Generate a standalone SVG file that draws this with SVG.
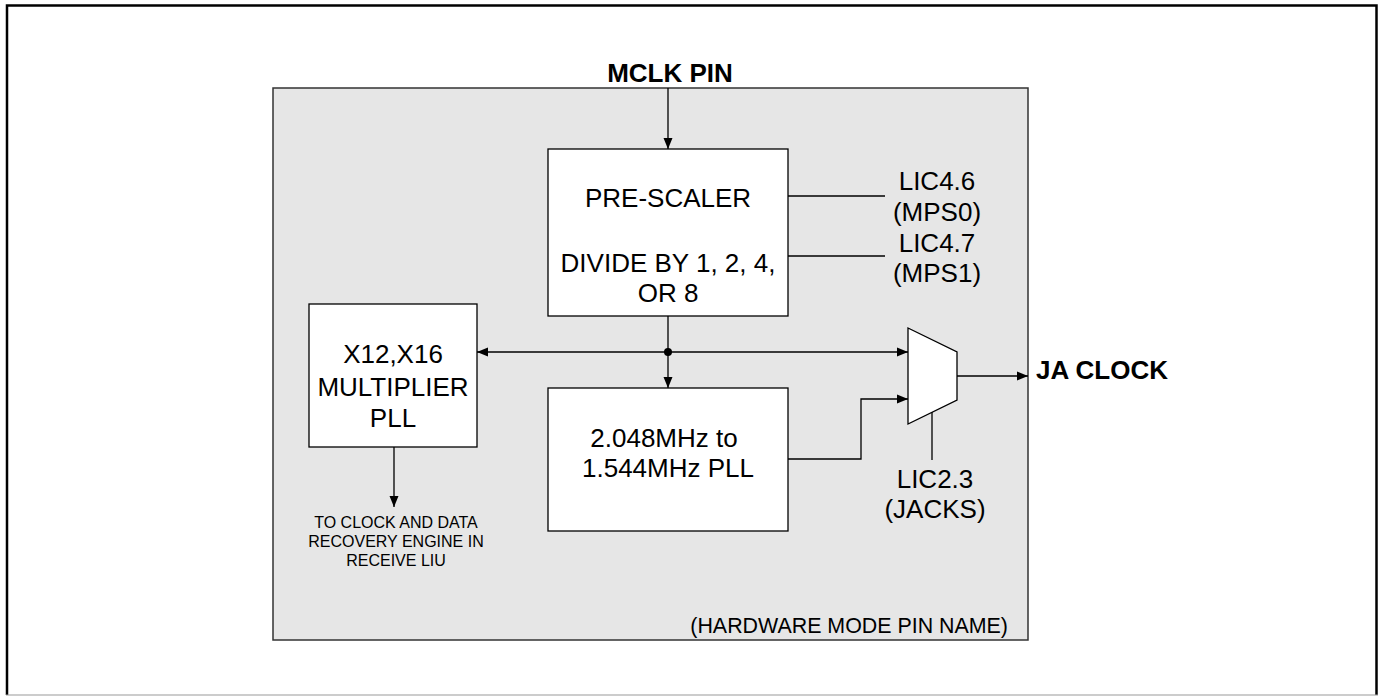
<svg xmlns="http://www.w3.org/2000/svg" width="1380" height="696" viewBox="0 0 1380 696">
<style>
.t{font-family:"Liberation Sans",Arial,sans-serif;font-size:26px;fill:#000;text-anchor:middle}
.b{font-weight:bold}
.s{font-size:16px}
.box{fill:#fff;stroke:#000;stroke-width:1.3}
.ln{fill:none;stroke:#000;stroke-width:1.3}
</style>
<defs>
<marker id="ah" markerUnits="userSpaceOnUse" markerWidth="12" markerHeight="10" refX="11" refY="5" orient="auto">
<path d="M0,0.5 L11,5 L0,9.5 z" fill="#000"/>
</marker>
</defs>
<rect width="1380" height="696" fill="#fff"/>
<path d="M7,695 V5.5 H1376.5 V695" fill="none" stroke="#000" stroke-width="2.5"/>
<line x1="6" y1="695" x2="1378" y2="695" stroke="#999" stroke-width="1.2"/>
<g id="frame">
<rect x="273" y="88" width="755" height="552" fill="#e6e6e6" stroke="#333" stroke-width="1.5"/>
<text class="t" x="1008" y="633" style="font-size:21.4px;text-anchor:end">(HARDWARE MODE PIN NAME)</text>
</g>
<g id="mclk"><text class="t b" x="670" y="82">MCLK PIN</text></g>
<g id="prescaler">
<rect class="box" x="548" y="149" width="240" height="167"/>
<text class="t" x="668" y="207">PRE-SCALER</text>
<text class="t" x="668" y="272">DIVIDE BY 1, 2, 4,</text>
<text class="t" x="668" y="302">OR 8</text>
</g>
<g id="lic46"><text class="t" x="937" y="190">LIC4.6</text><text class="t" x="937" y="221">(MPS0)</text></g>
<g id="lic47"><text class="t" x="937" y="252">LIC4.7</text><text class="t" x="937" y="282">(MPS1)</text></g>
<g id="multiplier">
<rect class="box" x="309" y="304" width="168" height="143"/>
<text class="t" x="393" y="363">X12,X16</text>
<text class="t" x="393" y="396">MULTIPLIER</text>
<text class="t" x="393" y="427">PLL</text>
</g>
<g id="cdr">
<text class="t s" x="396" y="528">TO CLOCK AND DATA</text>
<text class="t s" x="396" y="547">RECOVERY ENGINE IN</text>
<text class="t s" x="396" y="566">RECEIVE LIU</text>
</g>
<g id="pll">
<rect class="box" x="548" y="388" width="240" height="143"/>
<text class="t" x="664" y="447">2.048MHz to</text>
<text class="t" x="668" y="477">1.544MHz PLL</text>
</g>
<g id="mux">
<path class="box" d="M908,328 L957,352 L957,400 L908,424 z"/>
</g>
<g id="lic23"><text class="t" x="935" y="488">LIC2.3</text><text class="t" x="935" y="518">(JACKS)</text></g>
<g id="jaclock"><text class="t b" x="1036" y="379" style="text-anchor:start">JA CLOCK</text></g>
<g id="connectors">
<line class="ln" x1="668" y1="88" x2="668" y2="149" marker-end="url(#ah)"/>
<line class="ln" x1="788" y1="196" x2="885" y2="196"/>
<line class="ln" x1="788" y1="256" x2="885" y2="256"/>
<line class="ln" x1="668" y1="316" x2="668" y2="388" marker-end="url(#ah)"/>
<line class="ln" x1="668" y1="352" x2="477" y2="352" marker-end="url(#ah)"/>
<line class="ln" x1="668" y1="352" x2="908" y2="352" marker-end="url(#ah)"/>
<circle cx="668" cy="352" r="4" fill="#000"/>
<line class="ln" x1="394" y1="447" x2="394" y2="507" marker-end="url(#ah)"/>
<polyline class="ln" points="788,459 861,459 861,399 908,399" marker-end="url(#ah)"/>
<line class="ln" x1="932" y1="412" x2="932" y2="460"/>
<line class="ln" x1="957" y1="376" x2="1028" y2="376" marker-end="url(#ah)"/>
</g>
</svg>
